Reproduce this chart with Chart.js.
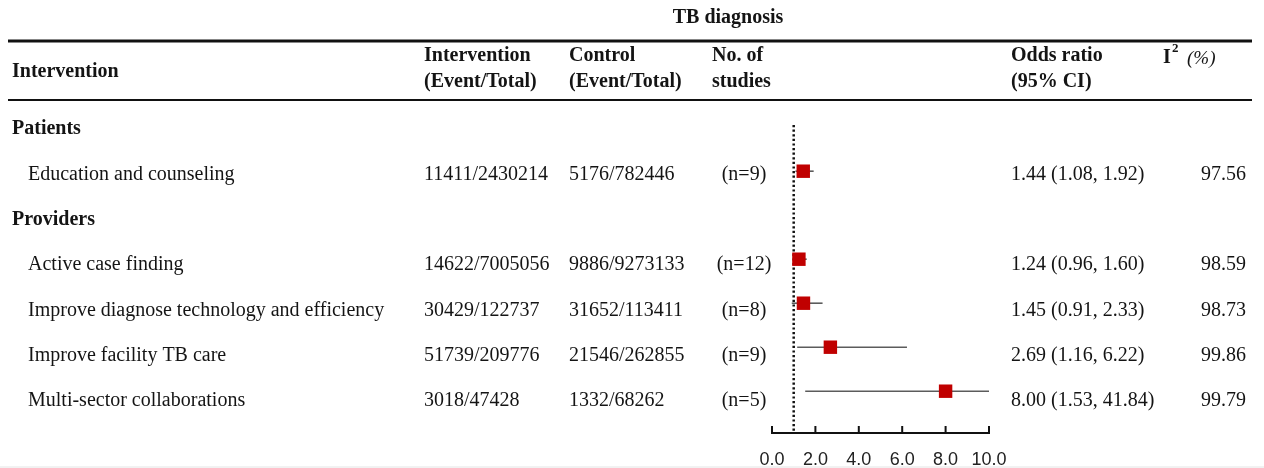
<!DOCTYPE html>
<html>
<head>
<meta charset="utf-8">
<script src="https://cdn.jsdelivr.net/npm/chart.js@4"></script>
<style>
  html, body { margin: 0; padding: 0; background: #fff; }
  canvas { display: block; }
</style>
</head>
<body>
<canvas id="forestChart" width="1264" height="468"></canvas>
<script>
// table rows: group headings and the interventions under them
const rowLabels = ['Patients', 'Education and counseling', 'Providers', 'Active case finding',
    'Improve diagnose technology and efficiency', 'Improve facility TB care', 'Multi-sector collaborations'];
const groupRows = [0, 2];
const studyRows = [1, 3, 4, 5, 6];

// pooled results per intervention (same order as studyRows)
const interventionEvents = [11411, 14622, 30429, 51739, 3018];
const interventionTotals = [2430214, 7005056, 122737, 209776, 47428];
const controlEvents = [5176, 9886, 31652, 21546, 1332];
const controlTotals = [782446, 9273133, 113411, 262855, 68262];
const studyCounts = [9, 12, 8, 9, 5];
const oddsRatios = [1.44, 1.24, 1.45, 2.69, 8.00];
const ciLower = [1.08, 0.96, 0.91, 1.16, 1.53];
const ciUpper = [1.92, 1.60, 2.33, 6.22, 41.84];
const iSquared = [97.56, 98.59, 98.73, 99.86, 99.79];

const xTicks = [0, 2, 4, 6, 8, 10];
const nullValue = 1;

const SERIF = '"Liberation Serif", "Times New Roman", serif';
const SANS = '"Liberation Sans", Arial, sans-serif';
const TEXT = '#141414';

function font(size, weight = 'normal', style = 'normal', family = SERIF) {
    return `${style} ${weight} ${size}px ${family}`;
}

function hLine(ctx, x1, x2, y, w, color) {
    ctx.save();
    ctx.strokeStyle = color;
    ctx.lineWidth = w;
    ctx.beginPath();
    ctx.moveTo(x1, y);
    ctx.lineTo(x2, y);
    ctx.stroke();
    ctx.restore();
}

const tablePlugin = {
    id: 'tableText',
    afterDraw(chart) {
        const ctx = chart.ctx;
        const xs = chart.scales.x;
        const ys = chart.scales.y;
        const area = chart.chartArea;

        ctx.save();
        ctx.fillStyle = TEXT;
        ctx.textBaseline = 'middle';

        // title and header rules
        ctx.font = font(20, 'bold');
        ctx.textAlign = 'center';
        ctx.fillText('TB diagnosis', 728, 18);
        hLine(ctx, 8, 1252, 41, 3, '#111');
        hLine(ctx, 8, 1252, 100, 2, '#111');
        hLine(ctx, 0, 1264, 467, 1, '#e4e4e4');

        ctx.textAlign = 'left';
        ctx.fillText('Intervention', 12, 72);
        const heads = [[424, 'Intervention', '(Event/Total)'], [569, 'Control', '(Event/Total)'],
            [712, 'No. of', 'studies'], [1011, 'Odds ratio', '(95% CI)']];
        heads.forEach(([x, a, b]) => {
            ctx.fillText(a, x, 56);
            ctx.fillText(b, x, 82);
        });
        ctx.fillText('I', 1163, 58);
        ctx.font = font(13, 'bold');
        ctx.fillText('2', 1172, 49);
        ctx.font = font(19, 'normal', 'italic');
        ctx.fillText('(%)', 1187, 59);

        // row text sits a little below the marker of the same row
        const rowY = i => ys.getPixelForValue(i) + 2 + 1.3 * i;

        ctx.font = font(20, 'bold');
        groupRows.forEach(r => ctx.fillText(rowLabels[r], 12, rowY(r)));

        ctx.font = font(20);
        studyRows.forEach((r, i) => {
            const y = rowY(r);
            ctx.textAlign = 'left';
            ctx.fillText(rowLabels[r], 28, y);
            ctx.fillText(`${interventionEvents[i]}/${interventionTotals[i]}`, 424, y);
            ctx.fillText(`${controlEvents[i]}/${controlTotals[i]}`, 569, y);
            ctx.fillText(`${oddsRatios[i].toFixed(2)} (${ciLower[i].toFixed(2)}, ${ciUpper[i].toFixed(2)})`, 1011, y);
            ctx.fillText(iSquared[i].toFixed(2), 1201, y);
            ctx.textAlign = 'center';
            ctx.fillText(`(n=${studyCounts[i]})`, 744, y);
        });

        // x axis with ticks pointing up
        const yAxis = area.bottom;
        const x0 = xs.getPixelForValue(xTicks[0]);
        const x1 = xs.getPixelForValue(xTicks[xTicks.length - 1]);
        ctx.strokeStyle = '#111';
        ctx.lineWidth = 2;
        ctx.beginPath();
        ctx.moveTo(x0, yAxis);
        ctx.lineTo(x1, yAxis);
        xTicks.forEach(t => {
            const x = xs.getPixelForValue(t);
            ctx.moveTo(x, yAxis + 1);
            ctx.lineTo(x, yAxis - 7);
        });
        ctx.stroke();

        ctx.font = font(18, 'normal', 'normal', SANS);
        ctx.fillStyle = '#222';
        ctx.textAlign = 'center';
        xTicks.forEach(t => ctx.fillText(t.toFixed(1), xs.getPixelForValue(t), 460));
        ctx.restore();
    }
};

const yMin = -0.05;
const yMax = 6.95;

const ciSets = studyRows.map((r, i) => ({
    data: [{ x: ciLower[i], y: r }, { x: ciUpper[i], y: r }],
    showLine: true,
    borderColor: '#5c5c5c',
    borderWidth: 1.6,
    pointRadius: 0,
    order: 2
}));

new Chart(document.getElementById('forestChart'), {
    type: 'scatter',
    data: {
        datasets: [
            {
                data: studyRows.map((r, i) => ({ x: oddsRatios[i], y: r })),
                pointStyle: 'rect',
                pointRadius: 9.5,
                backgroundColor: '#c00000',
                borderWidth: 0,
                order: 0
            },
            ...ciSets,
            {
                data: [{ x: nullValue, y: yMin }, { x: nullValue, y: yMax }],
                showLine: true,
                borderColor: '#111',
                borderWidth: 2.5,
                borderDash: [2.2, 2.4],
                pointRadius: 0,
                order: 3
            }
        ]
    },
    options: {
        responsive: false,
        animation: false,
        layout: { padding: { left: 772, right: 275, top: 125, bottom: 35 } },
        plugins: { legend: { display: false }, tooltip: { enabled: false } },
        scales: {
            x: { type: 'linear', min: 0, max: 10, display: false },
            y: { type: 'linear', min: yMin, max: yMax, reverse: true, display: false }
        }
    },
    plugins: [tablePlugin]
});
</script>
</body>
</html>
